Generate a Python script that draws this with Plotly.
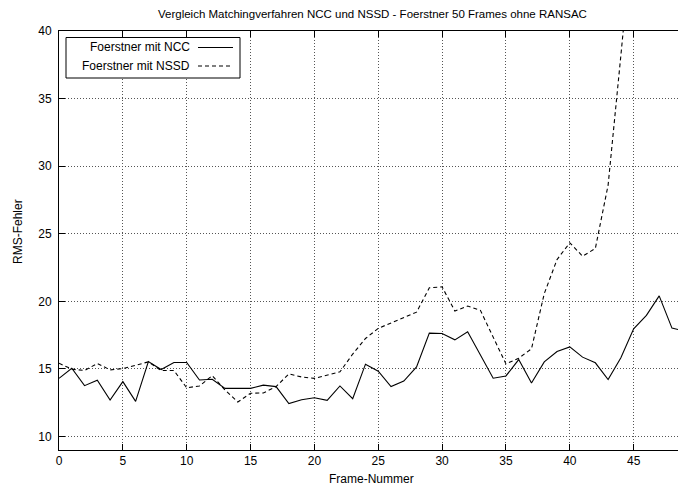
import plotly.graph_objects as go

# RMS error per frame for the two matching methods (Foerstner corners, no RANSAC)
frames = list(range(50))
rms_ncc = [14.3, 15.05, 13.76, 14.16, 12.7, 14.06, 12.6, 15.54, 14.95, 15.47,
           15.47, 14.18, 14.23, 13.56, 13.56, 13.56, 13.8, 13.69, 12.43, 12.72,
           12.87, 12.67, 13.74, 12.8, 15.35, 14.83, 13.69, 14.1, 15.15, 17.65,
           17.62, 17.15, 17.75, 15.99, 14.31, 14.48, 15.69, 13.96, 15.52, 16.29,
           16.63, 15.87, 15.45, 14.21, 15.82, 17.97, 18.96, 20.4, 18.02, 17.8]
rms_nssd = [15.42, 14.98, 14.88, 15.4, 14.93, 15.02, 15.27, 15.52, 14.88, 14.88,
            13.6, 13.74, 14.5, 13.44, 12.55, 13.2, 13.22, 13.69, 14.63, 14.4,
            14.3, 14.53, 14.78, 16.1, 17.25, 18.0, 18.4, 18.8, 19.2, 21.0,
            21.07, 19.28, 19.65, 19.33, 17.4, 15.37, 15.79, 16.49, 20.57, 23.09,
            24.33, 23.34, 23.91, 28.6, 38.2, 48.0]

series_names = ["Foerstner mit NCC", "Foerstner mit NSSD"]
title_text = "Vergleich Matchingverfahren NCC und NSSD - Foerstner 50 Frames ohne RANSAC"
x_title = "Frame-Nummer"
y_title = "RMS-Fehler"

FONT = "Liberation Sans, Arial, Helvetica, sans-serif"
W, H = 678, 490
ML, MR, MT, MB = 59, 0, 31, 40


def px_x(p):
    return (p - ML) / (W - ML - MR)


def px_y(p):
    return 1 - (p - MT) / (H - MT - MB)


fig = go.Figure()
fig.add_trace(go.Scatter(x=frames[:len(rms_ncc)], y=rms_ncc, mode="lines",
                         name=series_names[0], showlegend=False,
                         line=dict(color="black", width=1.1)))
fig.add_trace(go.Scatter(x=frames[:len(rms_nssd)], y=rms_nssd, mode="lines",
                         name=series_names[1], showlegend=False,
                         line=dict(color="black", width=1.1, dash="4px,3px")))

grid = dict(showgrid=True, gridcolor="#555555", gridwidth=1, griddash="1px,2px",
            zeroline=False, showline=True, linecolor="black", linewidth=1,
            ticks="inside", ticklen=6, tickcolor="black", tickwidth=1,
            tickfont=dict(family=FONT, size=12, color="black"))

fig.update_xaxes(range=[0, (W - ML - MR) / 12.77], tick0=0, dtick=5,
                 mirror="ticks", **grid)
fig.update_yaxes(range=[9, 40], tick0=10, dtick=5, mirror=False,
                 ticklabelstandoff=4, **grid)

# hand-built key: text right-aligned, line sample to its right
shapes = [dict(type="rect", xref="paper", yref="paper",
               x0=px_x(66), x1=px_x(240), y0=px_y(78), y1=px_y(37.5),
               line=dict(color="black", width=1), fillcolor="white", layer="above")]
annotations = []
for i, (name, dash) in enumerate(zip(series_names, ["solid", "4px,3px"])):
    yy = 47.5 + i * 18.5
    annotations.append(dict(text=name, xref="paper", yref="paper", x=px_x(192),
                            y=px_y(yy), xanchor="right", yanchor="middle",
                            showarrow=False,
                            font=dict(family=FONT, size=12, color="black")))
    shapes.append(dict(type="line", xref="paper", yref="paper",
                       x0=px_x(198), x1=px_x(233), y0=px_y(yy), y1=px_y(yy),
                       line=dict(color="black", width=1.1, dash=dash), layer="above"))

annotations.append(dict(text=title_text, xref="paper", yref="paper",
                        x=px_x(372), y=px_y(14), xanchor="center", yanchor="middle",
                        showarrow=False, font=dict(family=FONT, size=11.5, color="black")))
annotations.append(dict(text=x_title, xref="paper", yref="paper",
                        x=px_x(371), y=px_y(479), xanchor="center", yanchor="middle",
                        showarrow=False, font=dict(family=FONT, size=12, color="black")))
annotations.append(dict(text=y_title, xref="paper", yref="paper",
                        x=px_x(18), y=px_y(232), xanchor="center", yanchor="middle",
                        textangle=-90, showarrow=False,
                        font=dict(family=FONT, size=12, color="black")))

fig.update_layout(width=W, height=H, margin=dict(l=ML, r=MR, t=MT, b=MB),
                  paper_bgcolor="white", plot_bgcolor="white",
                  shapes=shapes, annotations=annotations,
                  font=dict(family=FONT, size=12, color="black"))

fig.write_html("out.html")
